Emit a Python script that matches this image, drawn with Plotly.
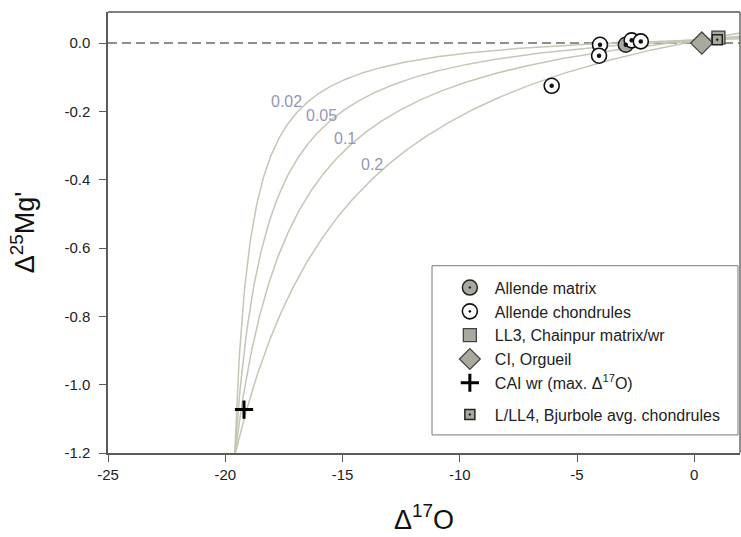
import numpy as np
import plotly.graph_objects as go

# --- measurements -----------------------------------------------------------
allende_matrix_d17o = [-2.92]
allende_matrix_d25mg = [-0.005]

allende_chondrules_d17o = [-4.02, -4.06, -6.08, -2.67, -2.28]
allende_chondrules_d25mg = [-0.005, -0.037, -0.125, 0.008, 0.005]

ll3_chainpur_d17o = [1.03]
ll3_chainpur_d25mg = [0.016]

ci_orgueil_d17o = [0.32]
ci_orgueil_d25mg = [0.0]

cai_wr_d17o = [-19.2]
cai_wr_d25mg = [-1.073]

bjurbole_d17o = [0.98]
bjurbole_d25mg = [0.010]

# --- mixing model -----------------------------------------------------------
# end members (Δ17O, Δ25Mg')
cai_end = (-19.6, -1.209)
chondrite_end = (0.28, 0.0094)
# Mg/O ratio of the refractory end member relative to the chondritic one
mix_ratios = [0.02, 0.05, 0.1, 0.2]
mix_labels = ["0.02", "0.05", "0.1", "0.2"]
mg_o_background = 0.013
label_pos_d17o = [-17.37, -15.89, -14.89, -13.75]
label_pos_d25mg = [-0.172, -0.213, -0.280, -0.354]

X_RANGE = [-25, 1.95]
Y_RANGE = [-1.2, 0.091]
x_ticks = [-25, -20, -15, -10, -5, 0]
y_ticks = [-1.2, -1.0, -0.8, -0.6, -0.4, -0.2, 0.0]


def mixing_curve(ratio, n=600):
    """Two-component mixing hyperbola from the CAI end member to the chondritic one,
    extended past the chondritic end to the right edge of the axes."""
    k = (ratio + mg_o_background) / (1.0 + mg_o_background)
    (xa, ya), (xb, yb) = cai_end, chondrite_end
    f_end = (X_RANGE[1] - xb) / (xa - xb)  # negative: extrapolation beyond chondrite
    f = np.linspace(1.0, f_end, n)
    x = f * xa + (1 - f) * xb
    y = (f * k * ya + (1 - f) * yb) / (f * k + (1 - f))
    return x, y


FONT = "Liberation Sans, Arial, sans-serif"
GREY_FILL = "#a9a99d"

fig = go.Figure()

for r in mix_ratios:
    cx, cy = mixing_curve(r)
    fig.add_trace(go.Scatter(x=cx, y=cy, mode="lines", showlegend=False, hoverinfo="skip",
                             line=dict(color="#c6c6b6", width=1.5)))

fig.add_trace(go.Scatter(
    x=allende_matrix_d17o, y=allende_matrix_d25mg, mode="markers", name="Allende matrix",
    legendgroup="a", legendrank=1,
    marker=dict(symbol="circle-dot", size=15, color=GREY_FILL, line=dict(color="#222", width=1.5))))
fig.add_trace(go.Scatter(
    x=allende_chondrules_d17o, y=allende_chondrules_d25mg, mode="markers", name="Allende chondrules",
    legendgroup="a", legendrank=2,
    marker=dict(symbol="circle-dot", size=15, color="white", line=dict(color="#111", width=1.6))))
# solid centre dots of the chondrule symbols
fig.add_trace(go.Scatter(
    x=allende_matrix_d17o + allende_chondrules_d17o,
    y=allende_matrix_d25mg + allende_chondrules_d25mg,
    mode="markers", showlegend=False, hoverinfo="skip",
    marker=dict(symbol="circle", size=4.5, color="#111")))
fig.add_trace(go.Scatter(
    x=ci_orgueil_d17o, y=ci_orgueil_d25mg, mode="markers", name="CI, Orgueil",
    legendgroup="a", legendrank=4,
    marker=dict(symbol="diamond", size=17, color=GREY_FILL, line=dict(color="#444", width=1.3))))
fig.add_trace(go.Scatter(
    x=ll3_chainpur_d17o, y=ll3_chainpur_d25mg, mode="markers", name="LL3, Chainpur matrix/wr",
    legendgroup="a", legendrank=3,
    marker=dict(symbol="square", size=13, color=GREY_FILL, line=dict(color="#444", width=1.3))))
fig.add_trace(go.Scatter(
    x=cai_wr_d17o, y=cai_wr_d25mg, mode="markers", name="CAI wr (max. Δ<sup>17</sup>O)",
    legendgroup="a", legendrank=5,
    marker=dict(symbol="cross-thin", size=13, color="black", line=dict(color="black", width=3))))
fig.add_trace(go.Scatter(
    x=bjurbole_d17o, y=bjurbole_d25mg, mode="markers", name="L/LL4, Bjurbole avg. chondrules",
    legendgroup="b", legendrank=6,
    marker=dict(symbol="square-dot", size=10, color=GREY_FILL, line=dict(color="#222", width=1.5))))

for txt, lx, ly in zip(mix_labels, label_pos_d17o, label_pos_d25mg):
    fig.add_annotation(x=lx, y=ly, text=txt, showarrow=False,
                       font=dict(family=FONT, size=16, color="#9696b6"))

# zero reference line
fig.add_shape(type="line", xref="paper", yref="y", x0=0, x1=1, y0=0, y1=0,
              line=dict(color="#6a6a6a", width=1.5, dash="9px,5px"), layer="below")
# top and right frame
fig.add_shape(type="line", xref="paper", yref="paper", x0=0, x1=1, y0=1, y1=1,
              line=dict(color="black", width=1.2))
fig.add_shape(type="line", xref="paper", yref="paper", x0=1, x1=1, y0=0, y1=1,
              line=dict(color="#444", width=1.2))
# legend frame
fig.add_shape(type="rect", xref="paper", yref="paper", x0=0.5127, x1=0.9968, y0=0.041, y1=0.4247,
              line=dict(color="#7a7a7a", width=1), fillcolor="white", layer="below")

axis_common = dict(showgrid=False, zeroline=False, showline=True, linecolor="#5a5a5a",
                   linewidth=1.5, ticks="outside", ticklen=7, tickwidth=1.3, tickcolor="#5a5a5a",
                   tickfont=dict(family=FONT, size=15, color="#222"))

fig.update_layout(
    width=741, height=537,
    margin=dict(l=108, r=1, t=12, b=84),
    paper_bgcolor="white", plot_bgcolor="white",
    font=dict(family=FONT),
    xaxis=dict(range=X_RANGE, tickvals=x_ticks, ticktext=[str(v) for v in x_ticks],
               title=dict(text="Δ<sup>17</sup>O", font=dict(family=FONT, size=27, color="#111"),
                          standoff=28),
               **axis_common),
    yaxis=dict(range=Y_RANGE, tickvals=y_ticks, ticktext=["%.1f" % v for v in y_ticks],
               ticklabelstandoff=6,
               title=dict(text="Δ<sup>25</sup>Mg'", font=dict(family=FONT, size=27, color="#111"),
                          standoff=22),
               **axis_common),
    legend=dict(x=0.533, y=0.4135, xanchor="left", yanchor="top",
                borderwidth=0, bgcolor="rgba(0,0,0,0)", itemwidth=40,
                font=dict(family=FONT, size=16, color="#222"),
                traceorder="grouped", tracegroupgap=8),
)

fig.write_html("out.html")
